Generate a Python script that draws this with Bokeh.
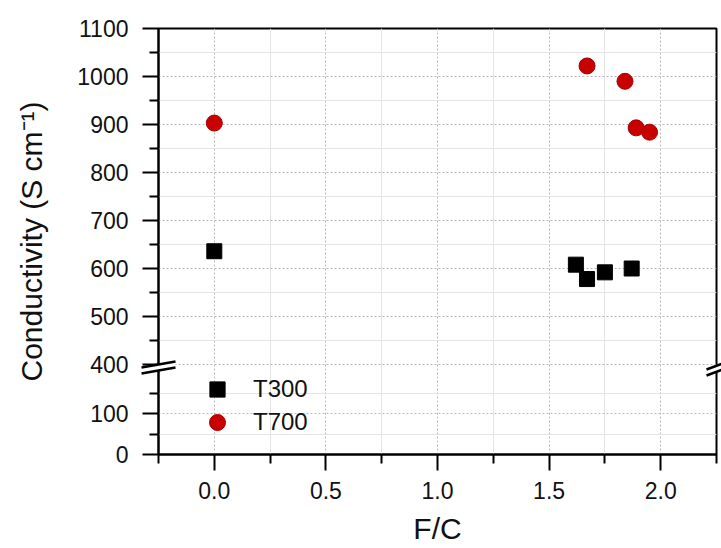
from bokeh.plotting import figure
from bokeh.models import Range1d, FixedTicker, Legend, LegendItem
from bokeh.embed import file_html
from bokeh.resources import INLINE

# ---- data ----
t300_fc = [0.0, 1.62, 1.67, 1.75, 1.87]
t300_cond = [636, 608, 578, 592, 600]
t700_fc = [0.0, 1.67, 1.84, 1.89, 1.95]
t700_cond = [903, 1022, 990, 893, 884]
x_ticks = [0.0, 0.5, 1.0, 1.5, 2.0]
x_minor = [-0.25, 0.25, 0.75, 1.25, 1.75, 2.25]
y_major_vals = [0, 100, 400, 500, 600, 700, 800, 900, 1000, 1100]
y_minor_vals = [50, 150, 450, 550, 650, 750, 850, 950, 1050]

FONT = "Liberation Sans"
TXT = "#111111"

# broken-axis transform (lower segment 0..~200, upper 400..1100)
def yt(v):
    if v < 250:
        return v * 41 / 100
    return 90 + (v - 400) * 48 / 100

W, H = 721, 548
BL, BR, BT, BB = 158, 5, 28, 94
x0, x1 = -0.25, 2.25
y0, y1 = 0, yt(1100)
fw = W - BL - BR
fh = H - BT - BB

def sx(px):  # screen px -> data x
    return x0 + (px - BL) * (x1 - x0) / fw

def sy(py):  # screen py -> data y
    return y0 + (H - BB - py) * (y1 - y0) / fh

p = figure(width=W, height=H, output_backend="svg", toolbar_location=None,
           x_range=Range1d(x0, x1), y_range=Range1d(y0, y1),
           min_border_left=BL, min_border_right=BR, min_border_top=BT, min_border_bottom=BB)
p.background_fill_color = "white"
p.border_fill_color = "white"
p.outline_line_color = "black"
p.outline_line_width = 2

s1 = p.scatter(t300_fc, [yt(v) for v in t300_cond], marker="square", size=15,
               fill_color="black", line_color="black")
s2 = p.scatter(t700_fc, [yt(v) for v in t700_cond], marker="circle", size=16,
               fill_color="#c80000", line_color="#a00000")

# axes
p.xaxis.ticker = FixedTicker(ticks=x_ticks, minor_ticks=x_minor)
p.xaxis.major_label_overrides = {t: f"{t:.1f}" for t in x_ticks}
p.yaxis.ticker = FixedTicker(ticks=[yt(v) for v in y_major_vals],
                             minor_ticks=[yt(v) for v in y_minor_vals])
p.yaxis.major_label_overrides = {yt(v): str(v) for v in y_major_vals}

for ax in (p.xaxis[0], p.yaxis[0]):
    ax.axis_line_width = 2
    ax.major_tick_line_width = 2
    ax.minor_tick_line_width = 2
    ax.major_tick_out = 16
    ax.major_tick_in = 0
    ax.minor_tick_out = 9
    ax.minor_tick_in = 0
    ax.major_label_text_font = FONT
    ax.major_label_text_font_size = "23px"
    ax.major_label_text_color = TXT
    ax.axis_label_text_font = FONT
    ax.axis_label_text_font_size = "30px"
    ax.axis_label_text_font_style = "normal"
    ax.axis_label_text_color = TXT

p.xaxis.axis_label = "F/C"
p.yaxis.axis_label = "Conductivity (S cm⁻¹)"
p.xaxis.major_label_standoff = 11
p.yaxis.major_label_standoff = 14
p.xaxis.axis_label_standoff = 10
p.yaxis.axis_label_standoff = 26

# grid
for g in (p.xgrid[0], p.ygrid[0]):
    g.grid_line_color = "#b8b8b8"
    g.grid_line_dash = "2 2"
    g.grid_line_width = 1
    g.minor_grid_line_color = "#e4e4e4"
    g.minor_grid_line_width = 1

# break marks on left and right axes
def brk(xa, xb, yc):
    ya0, ya1 = yc + 3, yc - 3
    d = 6
    xs_patch = [sx(xa), sx(xb), sx(xb), sx(xa)]
    ys_patch = [sy(ya0), sy(ya1), sy(ya1 + d), sy(ya0 + d)]
    p.patch(xs_patch, ys_patch, fill_color="white", line_color=None, level="overlay")
    p.segment(x0=[sx(xa), sx(xa)], y0=[sy(ya0), sy(ya0 + d)],
              x1=[sx(xb), sx(xb)], y1=[sy(ya1), sy(ya1 + d)],
              line_color="black", line_width=2.5, level="overlay")

brk(141, 175, 364)
brk(706, 722, 366)

# legend: one per item, so the marker can be drawn full size
def make_legend(label, rend, gsize, cx, cy):
    lg = Legend(items=[LegendItem(label=label, renderers=[rend])],
                location=(int(cx - gsize / 2 - BL), int((H - BB) - (cy + gsize / 2))))
    lg.background_fill_alpha = 0
    lg.border_line_color = None
    lg.padding = 0
    lg.margin = 0
    lg.glyph_width = gsize
    lg.glyph_height = gsize
    lg.label_height = gsize
    lg.label_standoff = int(253 - (cx + gsize / 2))
    lg.label_text_font = FONT
    lg.label_text_font_size = "24px"
    lg.label_text_color = TXT
    p.add_layout(lg)

make_legend("T300", s1, 38, 217, 389)
make_legend("T700", s2, 40, 217, 422)

open("out.html", "w").write(file_html(p, INLINE))
